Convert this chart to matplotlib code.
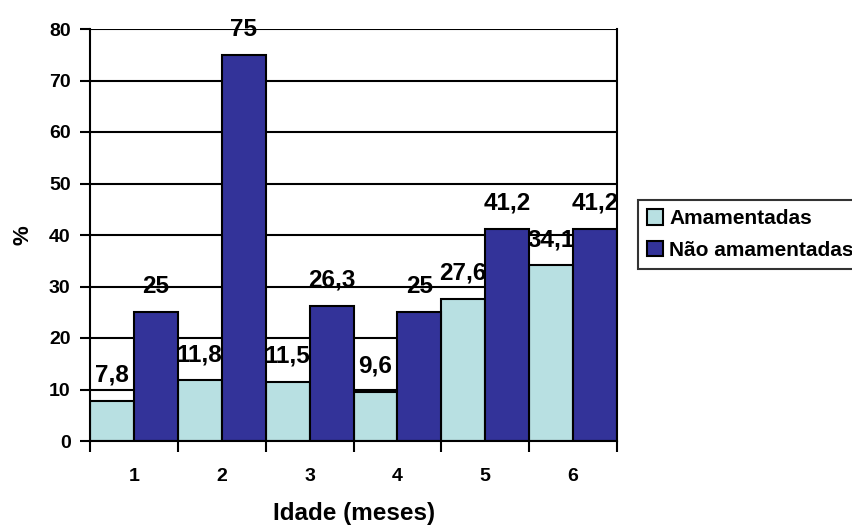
import matplotlib
matplotlib.use("Agg")
import matplotlib.pyplot as plt
from matplotlib.patches import Rectangle
import numpy as np

plt.rcParams['font.family'] = ['Liberation Sans', 'DejaVu Sans']
plt.rcParams['font.weight'] = 'bold'

months = ["1", "2", "3", "4", "5", "6"]
amamentadas = [7.8, 11.8, 11.5, 9.6, 27.6, 34.1]
nao_amamentadas = [25, 75, 26.3, 25, 41.2, 41.2]
labels_a = ["7,8", "11,8", "11,5", "9,6", "27,6", "34,1"]
labels_n = ["25", "75", "26,3", "25", "41,2", "41,2"]

W, H = 852, 527
fig = plt.figure(figsize=(W / 100, H / 100), dpi=100)
ax = fig.add_axes([90 / W, 1 - 441 / H, 527 / W, 412 / H])

x = np.arange(len(months))
w = 0.5
b1 = ax.bar(x - w / 2, amamentadas, w, color="#B8E0E2", edgecolor="black",
            linewidth=1.5, label="Amamentadas", zorder=3)
b2 = ax.bar(x + w / 2, nao_amamentadas, w, color="#333399", edgecolor="black",
            linewidth=1.5, label="Não amamentadas", zorder=3)

# value labels sit behind the bars and are cut at the right edge of the plot
clip = Rectangle((0, 0), 1, 1.3, transform=ax.transAxes, visible=False)
ax.add_patch(clip)
for bars, labs in ((b1, labels_a), (b2, labels_n)):
    for r, t in zip(bars, labs):
        a = ax.annotate(t, (r.get_x() + r.get_width() / 2, r.get_height()),
                        xytext=(0, 13.7), textcoords="offset points",
                        ha="center", va="baseline", fontsize=17.5,
                        fontweight="bold", zorder=2, annotation_clip=False)
        a.set_clip_path(clip)

ax.set_xlim(-0.5, len(months) - 0.5)
ax.set_ylim(0, 80)
ax.set_yticks(range(0, 81, 10))
ax.yaxis.grid(True, color="black", linewidth=1.5, zorder=1)

ax.set_xticks(np.arange(len(months) + 1) - 0.5)
ax.set_xticklabels([])
ax.set_xticks(x, minor=True)
ax.set_xticklabels(months, minor=True)
ax.tick_params(axis="x", which="major", length=8, width=1.5, direction="out")
ax.tick_params(axis="x", which="minor", length=0, pad=19.5, labelsize=14)
ax.tick_params(axis="y", length=7, width=1.5, direction="out", labelsize=14, pad=7)
for lbl in ax.get_xticklabels(minor=True) + ax.get_yticklabels():
    lbl.set_fontweight("bold")

for s in ("left", "bottom", "right"):
    ax.spines[s].set_linewidth(1.5)
    ax.spines[s].set_zorder(4)
ax.spines["top"].set_visible(False)

fig.text(23 / W, 1 - 235 / H, "%", rotation=90, ha="center", va="center",
         fontsize=16, fontweight="bold")
fig.text(354 / W, 1 - 520 / H, "Idade (meses)", ha="center", va="baseline",
         fontsize=17.5, fontweight="bold")

leg = ax.legend(loc="upper left", bbox_to_anchor=(638 / W, 1 - 200 / H),
                bbox_transform=fig.transFigure, frameon=True, fancybox=False,
                edgecolor="black", fontsize=15, handlelength=0.75,
                handleheight=0.75, handletextpad=0.3, borderpad=0.45,
                labelspacing=0.6, borderaxespad=0)
leg.get_frame().set_linewidth(1.5)
for t in leg.get_texts():
    t.set_fontweight("bold")

fig.savefig("out.png", dpi=100)
